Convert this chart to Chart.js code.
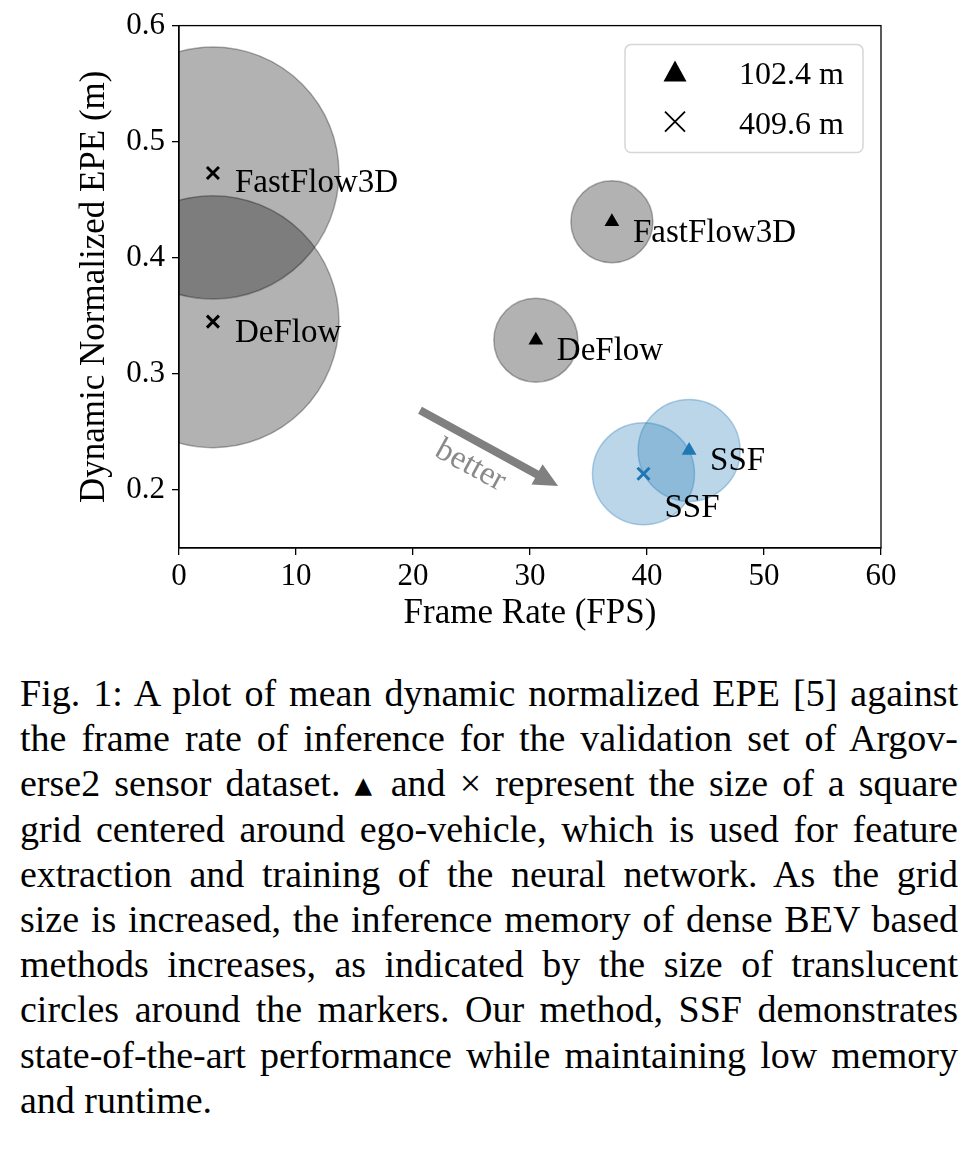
<!DOCTYPE html>
<html>
<head>
<meta charset="utf-8">
<script src="https://cdn.jsdelivr.net/npm/chart.js@4.4.0/dist/chart.umd.min.js"></script>
<style>
html,body{margin:0;padding:0;background:#fff;}
body{width:977px;height:1150px;position:relative;overflow:hidden;}
#wrap{position:absolute;left:0;top:0;width:977px;height:650px;}
#caption{position:absolute;left:20px;top:671px;width:938px;font-family:"Liberation Serif","Times New Roman",serif;font-size:38px;line-height:45.2px;color:#000;}
#caption .ln{white-space:nowrap;height:45.2px;text-align:justify;text-align-last:justify;}
#caption .ln.last{text-align-last:left;}
#caption .tri{font-family:"DejaVu Sans",sans-serif;font-size:0.6em;vertical-align:0.12em;}
</style>
</head>
<body>
<div id="wrap"><canvas id="c" width="977" height="650"></canvas></div>
<div id="caption">
<div class="ln"><span>Fig. 1: A plot of mean dynamic normalized EPE [5] against</span></div>
<div class="ln"><span>the frame rate of inference for the validation set of Argov-</span></div>
<div class="ln"><span>erse2 sensor dataset. <span class="tri">▲</span> and × represent the size of a square</span></div>
<div class="ln"><span>grid centered around ego-vehicle, which is used for feature</span></div>
<div class="ln"><span>extraction and training of the neural network. As the grid</span></div>
<div class="ln"><span>size is increased, the inference memory of dense BEV based</span></div>
<div class="ln"><span>methods increases, as indicated by the size of translucent</span></div>
<div class="ln"><span>circles around the markers. Our method, SSF demonstrates</span></div>
<div class="ln"><span>state-of-the-art performance while maintaining low memory</span></div>
<div class="ln last"><span>and runtime.</span></div>
</div>
<script>
// ---------------- data ----------------
const methods = ['FastFlow3D', 'DeFlow', 'SSF'];
const gridSizes = ['102.4 m', '409.6 m'];
// grid 102.4 m (triangles)
const fps102 = [37.0, 30.5, 43.6];
const epe102 = [0.431, 0.329, 0.234];
const mem102 = [41, 42, 51];      // inference memory (circle radius)
// grid 409.6 m (crosses)
const fps409 = [2.9, 2.9, 39.7];
const epe409 = [0.473, 0.345, 0.214];
const mem409 = [126, 126, 51];
// axes
const xTicks = [0, 10, 20, 30, 40, 50, 60];
const yTicks = [0.2, 0.3, 0.4, 0.5, 0.6];
// "better" arrow (data coordinates)
const arrowFrom = {x: 20.6, y: 0.2686};
const arrowTo = {x: 32.4, y: 0.2035};
const arrowText = 'better';

// ---------------- styles ----------------
const markColor = ['#000000', '#000000', '#1f77b4'];
const fillColor = ['rgba(0,0,0,0.3)', 'rgba(0,0,0,0.3)', 'rgba(31,119,180,0.3)'];
const edgeColor = ['rgba(0,0,0,0.3)', 'rgba(0,0,0,0.3)', 'rgba(31,119,180,0.35)'];
const labelOff102 = [[21, 20], [21, 20], [21, 20]];
const labelOff409 = [[22, 19], [22, 20], [21, 43]];
const SERIF = '"Liberation Serif", "Times New Roman", serif';

// caption fitting
const CW = 938;
document.querySelectorAll('#caption .ln').forEach(ln => {
  const sp = ln.firstElementChild;
  const w = sp.getBoundingClientRect().width;
  if (w > CW) {
    ln.style.textAlignLast = 'left';
    sp.style.display = 'inline-block';
    sp.style.transformOrigin = '0 0';
    sp.style.transform = 'scaleX(' + (CW / w) + ')';
  } else {
    ln.style.whiteSpace = 'normal';
  }
});

const pts = (xs, ys, rs) => xs.map((x, i) => rs ? {x: x, y: ys[i], r: rs[i]} : {x: x, y: ys[i]});

const overlay = {
  id: 'overlay',
  afterDatasetsDraw(chart) {
    const {ctx, chartArea: a, scales: {x, y}} = chart;
    ctx.save();
    // frame
    ctx.strokeStyle = '#000';
    ctx.lineWidth = 1.3;
    ctx.strokeRect(a.left, a.top, a.right - a.left, a.bottom - a.top);

    // arrow
    const x0 = x.getPixelForValue(arrowFrom.x), y0 = y.getPixelForValue(arrowFrom.y);
    const x1 = x.getPixelForValue(arrowTo.x), y1 = y.getPixelForValue(arrowTo.y);
    const ang = Math.atan2(y1 - y0, x1 - x0);
    const len = Math.hypot(x1 - x0, y1 - y0);
    const sw = 4, hw = 11.5, hl = 24;
    ctx.translate(x0, y0);
    ctx.rotate(ang);
    ctx.fillStyle = '#808080';
    ctx.beginPath();
    ctx.moveTo(0, -sw);
    ctx.lineTo(len - hl, -sw);
    ctx.lineTo(len - hl, -hw);
    ctx.lineTo(len, 0);
    ctx.lineTo(len - hl, hw);
    ctx.lineTo(len - hl, sw);
    ctx.lineTo(0, sw);
    ctx.closePath();
    ctx.fill();
    // "better" text below the arrow
    ctx.font = '33px ' + SERIF;
    ctx.fillStyle = '#8a8a8a';
    ctx.textAlign = 'center';
    ctx.textBaseline = 'alphabetic';
    ctx.fillText(arrowText, len * 0.45, 33);
    ctx.setTransform(1, 0, 0, 1, 0, 0);

    // point labels
    ctx.font = '33px ' + SERIF;
    ctx.fillStyle = '#000';
    ctx.textAlign = 'left';
    ctx.textBaseline = 'alphabetic';
    methods.forEach((m, i) => {
      ctx.fillText(m, x.getPixelForValue(fps102[i]) + labelOff102[i][0], y.getPixelForValue(epe102[i]) + labelOff102[i][1]);
      ctx.fillText(m, x.getPixelForValue(fps409[i]) + labelOff409[i][0], y.getPixelForValue(epe409[i]) + labelOff409[i][1]);
    });

    // legend
    const bw = 238, bh = 108;
    const bx = a.right - 18 - bw, by = a.top + 19;
    ctx.beginPath();
    ctx.roundRect(bx, by, bw, bh, 6);
    ctx.fillStyle = 'rgba(255,255,255,0.8)';
    ctx.fill();
    ctx.strokeStyle = '#d6d6d6';
    ctx.lineWidth = 1.5;
    ctx.stroke();
    const mx = bx + 50;
    const r1 = by + 27, r2 = by + 77;
    // triangle
    ctx.fillStyle = '#000';
    ctx.beginPath();
    ctx.moveTo(mx, r1 - 11);
    ctx.lineTo(mx - 11.5, r1 + 10);
    ctx.lineTo(mx + 11.5, r1 + 10);
    ctx.closePath();
    ctx.fill();
    // cross
    ctx.strokeStyle = '#000';
    ctx.lineWidth = 1.8;
    ctx.beginPath();
    ctx.moveTo(mx - 10, r2 - 10); ctx.lineTo(mx + 10, r2 + 10);
    ctx.moveTo(mx + 10, r2 - 10); ctx.lineTo(mx - 10, r2 + 10);
    ctx.stroke();
    ctx.font = '32px ' + SERIF;
    ctx.fillStyle = '#000';
    ctx.textAlign = 'left';
    ctx.fillText(gridSizes[0], bx + 114, r1 + 12);
    ctx.fillText(gridSizes[1], bx + 114, r2 + 12);
    ctx.restore();
  }
};

Chart.defaults.font.family = SERIF;
Chart.defaults.color = '#000';

new Chart(document.getElementById('c'), {
  data: {
    datasets: [
      {type: 'bubble', label: 'mem ' + gridSizes[1], data: pts(fps409, epe409, mem409),
        backgroundColor: fillColor, borderColor: edgeColor, borderWidth: 1.5, clip: 0, order: 3},
      {type: 'bubble', label: 'mem ' + gridSizes[0], data: pts(fps102, epe102, mem102),
        backgroundColor: fillColor, borderColor: edgeColor, borderWidth: 1.5, clip: 0, order: 2},
      {type: 'scatter', label: gridSizes[0], data: pts(fps102, epe102),
        pointStyle: 'triangle', pointRadius: 8.5, pointBackgroundColor: markColor, pointBorderColor: markColor,
        pointBorderWidth: 0, order: 0},
      {type: 'scatter', label: gridSizes[1], data: pts(fps409, epe409),
        pointStyle: 'crossRot', pointRadius: 8.5, pointBorderColor: markColor, pointBackgroundColor: markColor,
        pointBorderWidth: 3, order: 0}
    ]
  },
  options: {
    responsive: false,
    devicePixelRatio: 1,
    animation: false,
    events: [],
    layout: {autoPadding: false, padding: {left: 0, top: 24, right: 96, bottom: 0}},
    plugins: {legend: {display: false}, tooltip: {enabled: false}},
    scales: {
      x: {
        type: 'linear', position: 'bottom', min: 0, max: 60,
        afterBuildTicks: ax => { ax.ticks = xTicks.map(v => ({value: v})); },
        afterFit: ax => { ax.height = 102; },
        ticks: {font: {size: 31}, color: '#000', padding: 3, maxRotation: 0, callback: v => String(v)},
        grid: {drawOnChartArea: false, drawTicks: true, tickLength: 7, color: '#000', lineWidth: 1.3},
        border: {display: true, color: '#000', width: 1.3},
        title: {display: true, text: 'Frame Rate (FPS)', font: {size: 35}, color: '#000', padding: {top: 0, bottom: 15}}
      },
      y: {
        type: 'linear', position: 'left', min: 0.15, max: 0.6,
        afterBuildTicks: ax => { ax.ticks = yTicks.map(v => ({value: v})); },
        afterFit: ax => { ax.width = 179; },
        ticks: {font: {size: 31}, color: '#000', padding: 7, callback: v => v.toFixed(1)},
        grid: {drawOnChartArea: false, drawTicks: true, tickLength: 7, color: '#000', lineWidth: 1.3},
        border: {display: true, color: '#000', width: 1.3},
        title: {display: true, text: 'Dynamic Normalized EPE (m)', font: {size: 35}, color: '#000', padding: {top: 74, bottom: 0}}
      }
    }
  },
  plugins: [overlay]
});
</script>
</body>
</html>
